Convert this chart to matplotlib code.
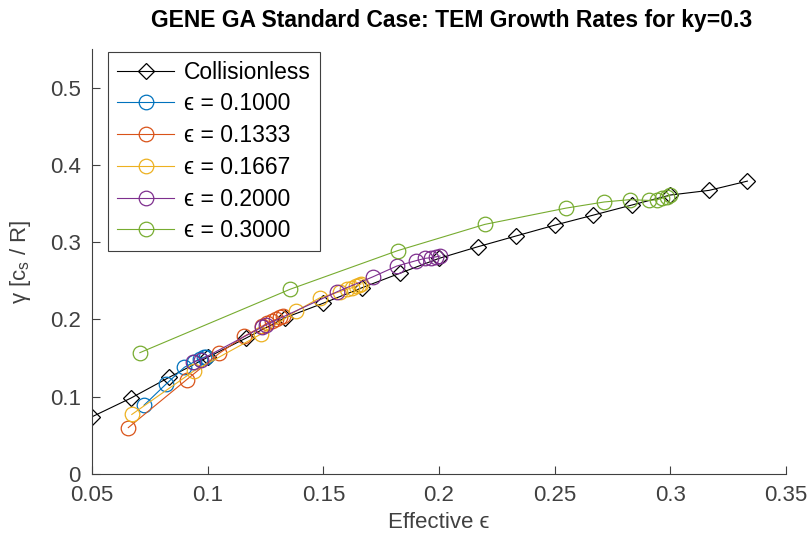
"""
GENE GA standard case: TEM growth rates vs effective epsilon (ky=0.3)
"""

import matplotlib
matplotlib.use("Agg")
import matplotlib.pyplot as plt

plt.rcParams['font.family'] = ['Liberation Sans', 'DejaVu Sans']

# collisionless scan
x_cl = [0.05, 0.0667, 0.0833, 0.1, 0.1167, 0.1333, 0.15, 0.1667, 0.1833,
        0.2, 0.2167, 0.2333, 0.25, 0.2667, 0.2833, 0.3, 0.3167, 0.3333]
y_cl = [0.074, 0.098, 0.125, 0.151, 0.176, 0.202, 0.221, 0.241, 0.260,
        0.279, 0.294, 0.308, 0.322, 0.335, 0.348, 0.361, 0.367, 0.379]

# collisional scans, one per epsilon
x_e10 = [0.0725, 0.0819, 0.0899, 0.0941, 0.0967, 0.0984, 0.0993]
y_e10 = [0.089, 0.116, 0.138, 0.145, 0.149, 0.151, 0.152]

x_e13 = [0.0657, 0.0909, 0.1049, 0.1157, 0.1235, 0.1256, 0.1278, 0.1295, 0.1312, 0.1325]
y_e13 = [0.060, 0.122, 0.156, 0.178, 0.191, 0.195, 0.198, 0.200, 0.203, 0.204]

x_e17 = [0.0672, 0.0939, 0.1230, 0.1384, 0.1485, 0.1572, 0.1602, 0.1624, 0.1641, 0.1654, 0.1663]
y_e17 = [0.077, 0.133, 0.181, 0.211, 0.228, 0.236, 0.239, 0.241, 0.243, 0.245, 0.246]

x_e20 = [0.0938, 0.0971, 0.1235, 0.1252, 0.1561, 0.1713, 0.1817, 0.1900, 0.1939, 0.1965, 0.1987, 0.2004]
y_e20 = [0.145, 0.148, 0.190, 0.193, 0.236, 0.255, 0.269, 0.276, 0.279, 0.280, 0.281, 0.282]

x_e30 = [0.0707, 0.1356, 0.1821, 0.2198, 0.2548, 0.2714, 0.2825, 0.2908, 0.2944, 0.2966, 0.2986, 0.2998]
y_e30 = [0.157, 0.239, 0.289, 0.323, 0.344, 0.352, 0.355, 0.354, 0.355, 0.357, 0.359, 0.361]

eps_labels = ['0.1000', '0.1333', '0.1667', '0.2000', '0.3000']
colors = ['#0072BD', '#D95319', '#EDB120', '#7E2F8E', '#77AC30']

fig = plt.figure(figsize=(8.09, 5.46), dpi=100)
ax = fig.add_axes([0.1137, 0.1319, 0.8579, 0.7784])

ax.plot(x_cl, y_cl, color='k', lw=0.8, marker='D', ms=8, mfc='none',
        mew=0.9, label='Collisionless')
series = [(x_e10, y_e10), (x_e13, y_e13), (x_e17, y_e17), (x_e20, y_e20), (x_e30, y_e30)]
for (xs, ys), lab, c in zip(series, eps_labels, colors):
    ax.plot(xs, ys, color=c, lw=0.8, marker='o', ms=10.5, mfc='none',
            mew=0.9, label='\u03f5 = ' + lab)

ax.set_xlim(0.05, 0.35)
ax.set_ylim(0, 0.55)
ax.set_xticks([0.05, 0.1, 0.15, 0.2, 0.25, 0.3, 0.35])
ax.set_xticklabels(['0.05', '0.1', '0.15', '0.2', '0.25', '0.3', '0.35'])
ax.set_yticks([0, 0.1, 0.2, 0.3, 0.4, 0.5])
ax.set_yticklabels(['0', '0.1', '0.2', '0.3', '0.4', '0.5'])

txt = '#404040'
ax.spines['top'].set_visible(False)
ax.spines['right'].set_visible(False)
for s in ['left', 'bottom']:
    ax.spines[s].set_color(txt)
    ax.spines[s].set_linewidth(0.8)
ax.tick_params(direction='in', length=6, width=0.8, colors=txt,
               labelsize=16, pad=8)

ax.set_xlabel('Effective \u03f5', fontsize=16, color=txt, labelpad=4)
ax.set_ylabel('\u03b3 [c$_\\mathregular{s}$ / R]', fontsize=16, color=txt, labelpad=12)
ax.set_title('GENE GA Standard Case: TEM Growth Rates for ky=0.3',
             fontsize=16.5, fontweight='bold', pad=16, x=0.518)

leg = ax.legend(loc='upper left', bbox_to_anchor=(0.023, 0.994), borderaxespad=0,
                fontsize=16.5, handlelength=2.5, labelspacing=0.38,
                handletextpad=0.4, fancybox=False, framealpha=1)
leg.get_frame().set_edgecolor(txt)
leg.get_frame().set_linewidth(0.8)

fig.savefig('out.png', dpi=100)
